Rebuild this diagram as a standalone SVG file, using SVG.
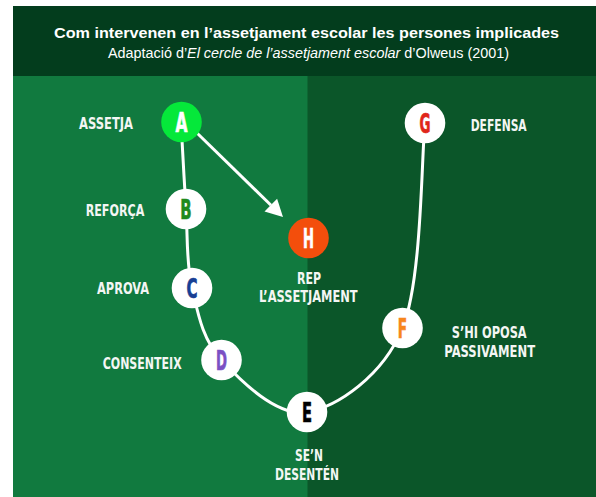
<svg xmlns="http://www.w3.org/2000/svg" width="596" height="497" viewBox="0 0 596 497">
<style>
.title{font-family:"Liberation Sans",Arial,sans-serif;font-weight:bold;font-size:15.5px;fill:#ffffff}
.sub{font-family:"Liberation Sans",Arial,sans-serif;font-size:14px;fill:#ffffff}
.lbl{font-family:"Liberation Sans Narrow","DejaVu Sans Condensed","Liberation Sans",sans-serif;font-weight:bold;font-size:16px;fill:#f4f6f4;text-anchor:middle}
.let{font-family:"Liberation Sans Narrow","DejaVu Sans Condensed","Liberation Sans",sans-serif;font-weight:bold;font-size:27px;text-anchor:middle;stroke-width:0.7}
.node{fill:#ffffff}
.conn{fill:none;stroke:#ffffff;stroke-width:3}
</style>
<rect x="0" y="0" width="596" height="497" fill="#ffffff"/>
<rect x="13" y="6" width="583" height="70" fill="#033d1d"/>
<rect x="13" y="76" width="295" height="421" fill="#117a3f"/>
<rect x="307.5" y="76" width="289" height="421" fill="#0b5629"/>
<text class="title" x="306.5" y="37.7" text-anchor="middle" textLength="505" lengthAdjust="spacingAndGlyphs">Com intervenen en l’assetjament escolar les persones implicades</text>
<text class="sub" x="308.5" y="57.5" text-anchor="middle" textLength="401" lengthAdjust="spacingAndGlyphs">Adaptació d’<tspan font-style="italic">El cercle de l’assetjament escolar</tspan> d’Olweus (2001)</text>
<g id="connectors">
<path class="conn" d="M181,122 C181.8,136.5 184.2,181.3 186,209 C187.8,236.7 186.1,262.8 192,288 C197.9,313.2 202.3,339.3 221.5,360 C240.7,380.7 276.8,417.3 307,412 C337.2,406.7 382.8,376.2 402.5,328 C422.2,279.8 421.25,157.2 425,123"/>
<line x1="197" y1="133" x2="271" y2="205.2" stroke="#ffffff" stroke-width="3"/>
<polygon points="283,217 264.5,211.5 277.1,198.7" fill="#ffffff"/>
</g>
<g id="node-A">
<circle cx="181.5" cy="122" r="20.3" fill="#05e83a"/>
<text class="let" x="181.5" y="131.5" fill="#ffffff" stroke="#ffffff" textLength="12" lengthAdjust="spacingAndGlyphs">A</text>
<text class="lbl" x="106" y="129" textLength="54" lengthAdjust="spacingAndGlyphs">ASSETJA</text>
</g>
<g id="node-B">
<circle class="node" cx="186" cy="209" r="20.3"/>
<text class="let" x="186" y="218.5" fill="#1f8a1c" stroke="#1f8a1c" textLength="11.3" lengthAdjust="spacingAndGlyphs">B</text>
<text class="lbl" x="115" y="216" textLength="58.6" lengthAdjust="spacingAndGlyphs">REFORÇA</text>
</g>
<g id="node-C">
<circle class="node" cx="192" cy="288" r="20.3"/>
<text class="let" x="192" y="297.5" fill="#173f94" stroke="#173f94" textLength="11" lengthAdjust="spacingAndGlyphs">C</text>
<text class="lbl" x="123" y="294.3" textLength="52" lengthAdjust="spacingAndGlyphs">APROVA</text>
</g>
<g id="node-D">
<circle class="node" cx="221.5" cy="360" r="20.3"/>
<text class="let" x="221.5" y="369.5" fill="#7b50c4" stroke="#7b50c4" textLength="11" lengthAdjust="spacingAndGlyphs">D</text>
<text class="lbl" x="142.2" y="369" textLength="79" lengthAdjust="spacingAndGlyphs">CONSENTEIX</text>
</g>
<g id="node-E">
<circle class="node" cx="307" cy="412" r="20.3"/>
<text class="let" x="307" y="421.5" fill="#000000" stroke="#000000" textLength="10" lengthAdjust="spacingAndGlyphs">E</text>
<text class="lbl" x="309" y="460.7" textLength="28" lengthAdjust="spacingAndGlyphs">SE’N</text>
<text class="lbl" x="307" y="479.5" textLength="64" lengthAdjust="spacingAndGlyphs">DESENTÉN</text>
</g>
<g id="node-F">
<circle class="node" cx="402.5" cy="328" r="20.3"/>
<text class="let" x="402.5" y="337.5" fill="#f7861c" stroke="#f7861c" textLength="9.3" lengthAdjust="spacingAndGlyphs">F</text>
<text class="lbl" x="489.2" y="337.7" textLength="75" lengthAdjust="spacingAndGlyphs">S’HI OPOSA</text>
<text class="lbl" x="489.7" y="356.6" textLength="90.7" lengthAdjust="spacingAndGlyphs">PASSIVAMENT</text>
</g>
<g id="node-G">
<circle class="node" cx="425" cy="123" r="20.3"/>
<text class="let" x="425" y="132.5" fill="#e0261a" stroke="#e0261a" textLength="11" lengthAdjust="spacingAndGlyphs">G</text>
<text class="lbl" x="498.7" y="130.7" textLength="56" lengthAdjust="spacingAndGlyphs">DEFENSA</text>
</g>
<g id="node-H">
<circle cx="308.5" cy="238" r="20.3" fill="#f34e0c"/>
<text class="let" x="308.5" y="247.5" fill="#ffffff" stroke="#ffffff" textLength="11" lengthAdjust="spacingAndGlyphs">H</text>
<text class="lbl" x="309" y="283.7" textLength="24" lengthAdjust="spacingAndGlyphs">REP</text>
<text class="lbl" x="308.3" y="301.7" textLength="98.7" lengthAdjust="spacingAndGlyphs">L’ASSETJAMENT</text>
</g>
</svg>
